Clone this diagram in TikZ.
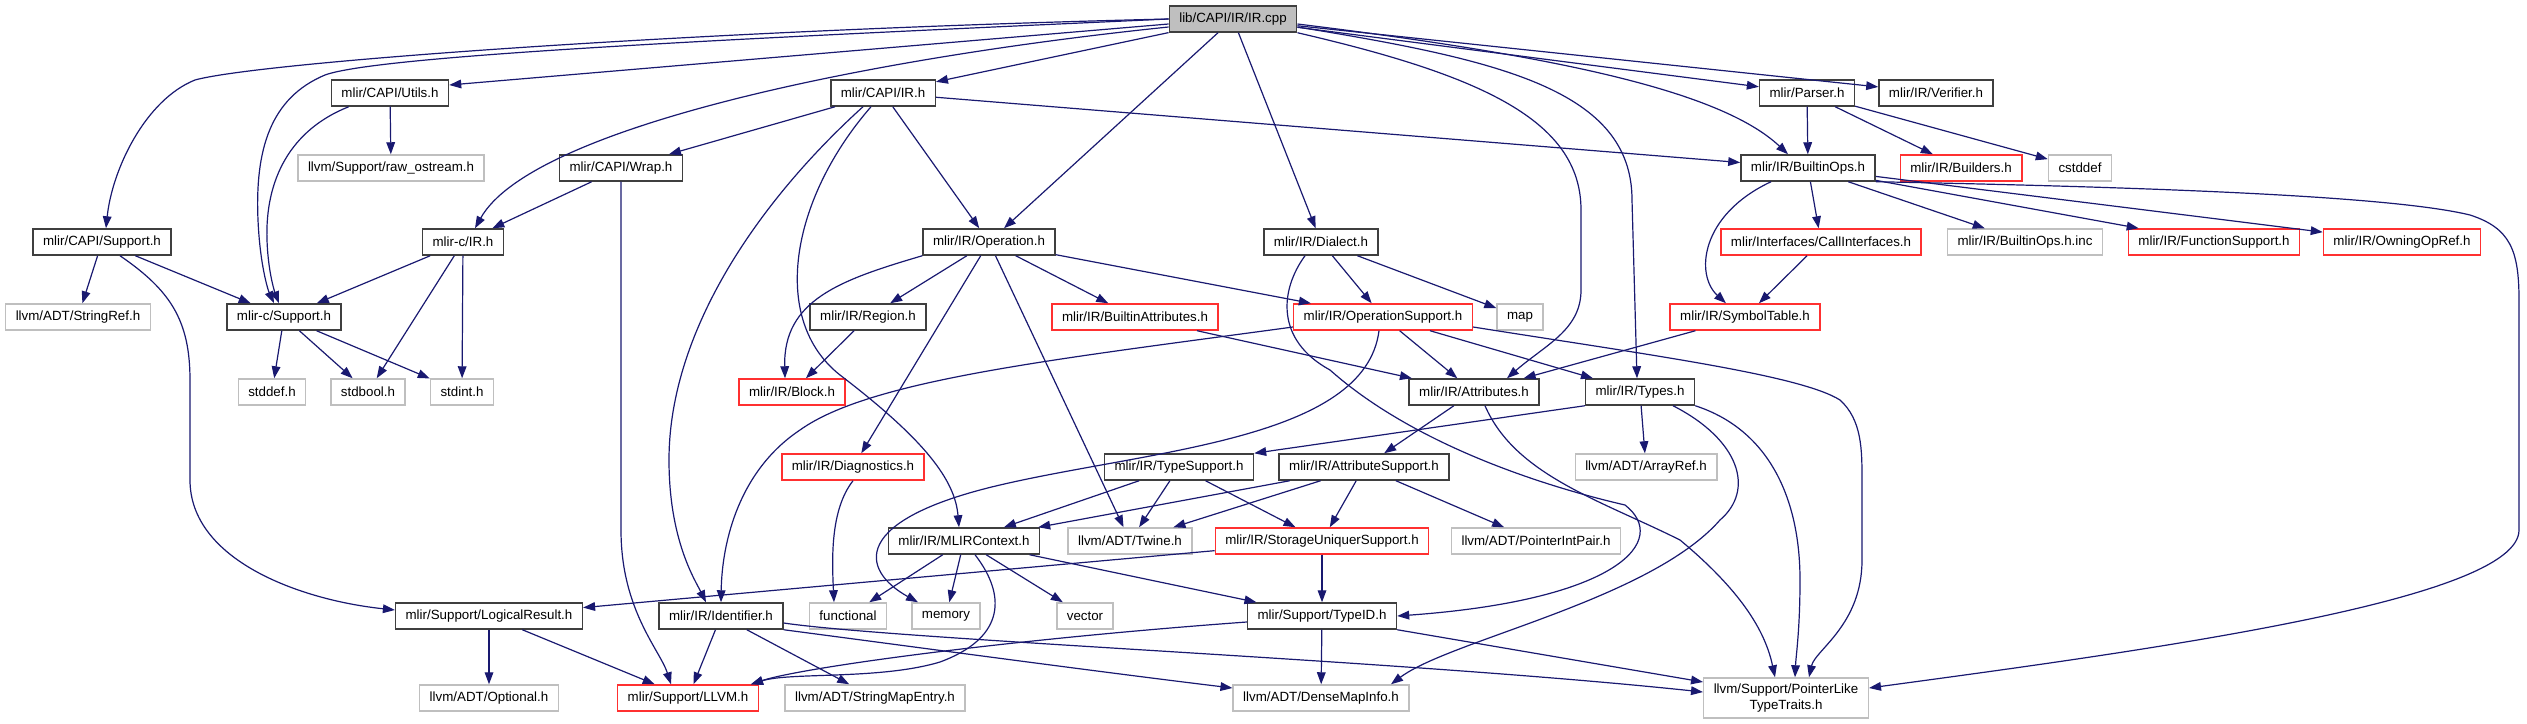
\documentclass[tikz,border=0pt]{standalone}
\usepackage{fontspec}
\setmainfont{Liberation Sans}
\usetikzlibrary{arrows.meta,calc}
\definecolor{dgedge}{HTML}{191970}
\definecolor{dgblack}{HTML}{3F3F3F}
\definecolor{dgred}{HTML}{FF3030}
\definecolor{dggrey}{HTML}{BFBFBF}

\tikzset{
  box/.style={rectangle, draw, line width=1.1pt, fill=white, inner xsep=7.5pt, inner ysep=0pt,
    minimum height=19.5pt, font=\fontsize{10}{12}\selectfont},
  docbox/.style={box, draw=dgblack},
  redbox/.style={box, draw=dgred},
  extbox/.style={box, draw=dggrey},
  rootbox/.style={box, draw=dgblack, fill=dggrey},
  dep/.style={draw=dgedge, line width=0.9pt, -{Triangle[length=9pt,width=6.5pt]}}
}

\begin{document}
\begin{tikzpicture}[x=0.75pt, y=-0.75pt]
      \useasboundingbox (0,0) rectangle (2527,724);

      % Root
      \node[rootbox] (root) at (1233,19) {lib/CAPI/IR/IR.cpp};

      % Direct includes
      \node[docbox] (utils) at (390,93) {mlir/CAPI/Utils.h};
      \node[docbox] (capiir) at (883,93) {mlir/CAPI/IR.h};
      \node[docbox] (parser) at (1807,93) {mlir/Parser.h};
      \node[docbox] (verifier) at (1936,93) {mlir/IR/Verifier.h};

      \node[extbox] (rawos) at (391,168) {llvm/Support/raw\_ostream.h};
      \node[docbox] (wrap) at (621,168) {mlir/CAPI/Wrap.h};
      \node[docbox] (builtinops) at (1808,168) {mlir/IR/BuiltinOps.h};
      \node[redbox] (builders) at (1961,168) {mlir/IR/Builders.h};
      \node[extbox] (cstddef) at (2080,168) {cstddef};

      \node[docbox] (capisupport) at (102,242) {mlir/CAPI/Support.h};
      \node[docbox] (circ) at (463,242) {mlir-c/IR.h};
      \node[docbox] (operation) at (989,242) {mlir/IR/Operation.h};
      \node[docbox] (dialect) at (1321,242) {mlir/IR/Dialect.h};
      \node[redbox] (callif) at (1821,242) {mlir/Interfaces/CallInterfaces.h};
      \node[extbox] (opsinc) at (2025,242) {mlir/IR/BuiltinOps.h.inc};
      \node[redbox] (funcsupport) at (2214,242) {mlir/IR/FunctionSupport.h};
      \node[redbox] (owning) at (2402,242) {mlir/IR/OwningOpRef.h};

      % Middle rows
      \node[extbox] (stringref) at (78,317) {llvm/ADT/StringRef.h};
      \node[docbox] (csupport) at (284,317) {mlir-c/Support.h};
      \node[docbox] (region) at (868,317) {mlir/IR/Region.h};
      \node[redbox] (battrs) at (1135,317) {mlir/IR/BuiltinAttributes.h};
      \node[redbox] (opsupport) at (1383,317) {mlir/IR/OperationSupport.h};
      \node[extbox] (map) at (1520,317) {map};
      \node[redbox] (symtab) at (1745,317) {mlir/IR/SymbolTable.h};

      \node[extbox] (stddef) at (272,392) {stddef.h};
      \node[extbox] (stdbool) at (368,392) {stdbool.h};
      \node[extbox] (stdint) at (462,392) {stdint.h};
      \node[redbox] (block) at (792,392) {mlir/IR/Block.h};
      \node[docbox] (attrs) at (1474,392) {mlir/IR/Attributes.h};
      \node[docbox] (types) at (1640,392) {mlir/IR/Types.h};

      \node[redbox] (diag) at (853,467) {mlir/IR/Diagnostics.h};
      \node[docbox] (typesupport) at (1179,467) {mlir/IR/TypeSupport.h};
      \node[docbox] (attrsupport) at (1364,467) {mlir/IR/AttributeSupport.h};
      \node[extbox] (arrayref) at (1646,467) {llvm/ADT/ArrayRef.h};

      \node[docbox] (ctx) at (964,541) {mlir/IR/MLIRContext.h};
      \node[extbox] (twine) at (1130,541) {llvm/ADT/Twine.h};
      \node[redbox] (suniq) at (1322,541) {mlir/IR/StorageUniquerSupport.h};
      \node[extbox] (pip) at (1536,541) {llvm/ADT/PointerIntPair.h};

      % Bottom rows
      \node[docbox] (logres) at (489,616) {mlir/Support/LogicalResult.h};
      \node[docbox] (ident) at (721,616) {mlir/IR/Identifier.h};
      \node[extbox] (functional) at (848,616) {functional};
      \node[extbox] (memory) at (946,616) {memory};
      \node[extbox] (vector) at (1085,616) {vector};
      \node[docbox] (tid) at (1322,616) {mlir/Support/TypeID.h};

      \node[extbox] (optional) at (489,698) {llvm/ADT/Optional.h};
      \node[redbox] (llvmh) at (688,698) {mlir/Support/LLVM.h};
      \node[extbox] (smentry) at (875,698) {llvm/ADT/StringMapEntry.h};
      \node[extbox] (dmi) at (1321,698) {llvm/ADT/DenseMapInfo.h};
      \node[extbox, align=center, minimum height=30pt] (plt) at (1786,698) {llvm/Support/PointerLike\\TypeTraits.h};

      % Arrows from the root
      \draw[dep] (root.west) .. controls (700,30) and (260,62) .. (195,80) .. controls (145,100) and (112,170) .. ($(capisupport.north)+(4,0)$);
      \draw[dep] (root.west) .. controls (750,38) and (380,55) .. (325,75) .. controls (270,98) and (255,150) .. (258,220) .. controls (260,265) and (268,290) .. ($(csupport.north)+(-10,0)$);
      \draw[dep] ($(root.west)+(0,5)$) -- ($(utils.east)+(0,-8)$);
      \draw[dep] ($(root.west)+(0,8)$) .. controls (850,60) and (530,130) .. ($(circ.north)+(12,0)$);
      \draw[dep] (root) -- (capiir);
      \draw[dep] (root) -- (operation);
      \draw[dep] (root) -- (dialect);
      \draw[dep] (root.south east) .. controls (1480,75) and (1581,120) .. (1581,210) -- (1581,290) .. controls (1581,330) and (1545,345) .. ($(attrs.north)+(33,0)$);
      \draw[dep] ($(root.east)+(0,8)$) .. controls (1500,60) and (1632,90) .. (1632,200) -- ($(types.north)+(-3,0)$);
      \draw[dep] ($(root.east)+(0,5)$) .. controls (1550,55) and (1720,90) .. ($(builtinops.north)+(-20,0)$);
      \draw[dep] (root) -- (parser);
      \draw[dep] (root) -- (verifier);

      % Utils.h
      \draw[dep] (utils) -- (rawos);
      \draw[dep] ($(utils.south west)+(18,0)$) .. controls (290,130) and (265,180) .. (267,240) .. controls (268,270) and (274,290) .. ($(csupport.north)+(-5,0)$);

      % CAPI/IR.h
      \draw[dep] (capiir) -- (wrap);
      \draw[dep] (capiir) -- (operation);
      \draw[dep] (capiir) -- (builtinops);
      \draw[dep] ($(capiir.south)+(-12,0)$) .. controls (790,200) and (770,320) .. (840,375) .. controls (925,440) and (955,480) .. ($(ctx.north)+(-5,0)$);
      \draw[dep] ($(capiir.south)+(-20,0)$) .. controls (760,200) and (669,330) .. (669,460) .. controls (669,540) and (695,580) .. ($(ident.north)+(-15,0)$);

      % Wrap.h
      \draw[dep] (wrap) -- (circ);
      \draw[dep] (wrap.south) -- (621,530) .. controls (621,610) and (660,650) .. ($(llvmh.north)+(-17,0)$);

      % CAPI/Support.h
      \draw[dep] (capisupport) -- (stringref);
      \draw[dep] (capisupport) -- (csupport);
      \draw[dep] ($(capisupport.south)+(18,0)$) .. controls (170,290) and (190,320) .. (190,380) -- (190,480) .. controls (190,560) and (300,600) .. ($(logres.west)+(0,-6)$);

      % mlir-c headers
      \draw[dep] (circ) -- (csupport);
      \draw[dep] (circ) -- (stdbool);
      \draw[dep] (circ) -- (stdint);
      \draw[dep] (csupport) -- (stddef);
      \draw[dep] (csupport) -- (stdbool);
      \draw[dep] (csupport) -- (stdint);

      % Operation.h
      \draw[dep] (operation.south west) .. controls (840,280) and (783,300) .. ($(block.north)+(-7,0)$);
      \draw[dep] (operation) -- (region);
      \draw[dep] (operation) -- (diag);
      \draw[dep] (operation) -- (twine);
      \draw[dep] (operation) -- (battrs);
      \draw[dep] (operation) -- (opsupport);
      \draw[dep] (region) -- (block);
      \draw[dep] (battrs) -- (attrs);

      % Dialect.h
      \draw[dep] (dialect) -- (opsupport);
      \draw[dep] (dialect) -- (map);
      \draw[dep] ($(dialect.south)+(-16,0)$) .. controls (1280,290) and (1275,340) .. (1330,370) .. controls (1420,450) and (1560,490) .. (1625,505) .. controls (1670,540) and (1620,600) .. (tid.east);

      % OperationSupport.h
      \draw[dep] (opsupport) -- (attrs);
      \draw[dep] (opsupport) -- (types);
      \draw[dep] ($(opsupport.west)+(0,10)$) .. controls (1050,360) and (870,380) .. (800,430) .. controls (740,470) and (722,540) .. (ident.north);
      \draw[dep] ($(opsupport.south)+(-4,0)$) .. controls (1365,440) and (1150,450) .. (1000,485) .. controls (850,520) and (860,570) .. ($(memory.north)+(-28,0)$);
      \draw[dep] ($(opsupport.east)+(0,10)$) .. controls (1650,355) and (1800,375) .. (1840,400) .. controls (1862,420) and (1862,450) .. (1862,480) -- (1862,560) .. controls (1862,625) and (1815,650) .. ($(plt.north)+(23,0)$);

      % SymbolTable.h and CallInterfaces.h
      \draw[dep] (symtab) -- (attrs);
      \draw[dep] (callif) -- (symtab);

      % BuiltinOps.h
      \draw[dep] (builtinops) -- (callif);
      \draw[dep] ($(builtinops.south)+(-37,0)$) .. controls (1700,215) and (1695,275) .. ($(symtab.north)+(-19,0)$);
      \draw[dep] (builtinops) -- (opsinc);
      \draw[dep] (builtinops) -- (funcsupport);
      \draw[dep] (builtinops) -- (owning);
      \draw[dep] (builtinops.south east) .. controls (2200,188) and (2400,198) .. (2470,215) .. controls (2510,228) and (2519,250) .. (2519,300) -- (2519,530) .. controls (2519,600) and (2150,650) .. ($(plt.east)+(0,-10)$);

      % Parser.h
      \draw[dep] (parser) -- (builtinops);
      \draw[dep] (parser) -- (builders);
      \draw[dep] (parser) -- (cstddef);

      % Attributes.h
      \draw[dep] (attrs) -- (attrsupport);
      \draw[dep] ($(attrs.south)+(11,0)$) .. controls (1515,475) and (1600,500) .. (1680,540) .. controls (1740,590) and (1765,630) .. ($(plt.north)+(-11,0)$);

      % Types.h
      \draw[dep] (types.south west) -- (typesupport.north east);
      \draw[dep] (types) -- (arrayref);
      \draw[dep] ($(types.south)+(33,0)$) .. controls (1740,440) and (1755,490) .. (1720,520) .. controls (1650,600) and (1450,640) .. ($(dmi.north)+(70,0)$);
      \draw[dep] (types.south east) .. controls (1770,430) and (1800,500) .. (1800,580) .. controls (1800,630) and (1796,655) .. ($(plt.north)+(9,0)$);

      % TypeSupport.h and AttributeSupport.h
      \draw[dep] (typesupport) -- (ctx);
      \draw[dep] (typesupport) -- (twine);
      \draw[dep] (typesupport) -- (suniq);
      \draw[dep] (attrsupport) -- (ctx);
      \draw[dep] (attrsupport) -- (twine);
      \draw[dep] (attrsupport) -- (suniq);
      \draw[dep] (attrsupport) -- (pip);

      % StorageUniquerSupport.h
      \draw[dep] (suniq) -- (tid);
      \draw[dep] (suniq) -- (logres);

      % MLIRContext.h
      \draw[dep] (ctx) -- (functional);
      \draw[dep] (ctx) -- (memory);
      \draw[dep] (ctx) -- (vector);
      \draw[dep] ($(ctx.south)+(11,0)$) .. controls (1010,600) and (1000,640) .. (940,662) .. controls (880,680) and (790,672) .. ($(llvmh.north east)+(-8,0)$);
      \draw[dep] (ctx) -- (tid);

      % Diagnostics.h
      \draw[dep] (diag.south) .. controls (830,510) and (832,560) .. ($(functional.north)+(-14,0)$);

      % Identifier.h
      \draw[dep] (ident) -- (llvmh);
      \draw[dep] (ident) -- (smentry);
      \draw[dep] (ident.south east) .. controls (900,645) and (1100,672) .. ($(dmi.west)+(0,-10)$);
      \draw[dep] ($(ident.east)+(0,7)$) .. controls (900,640) and (1400,660) .. ($(plt.west)+(0,-6)$);

      % TypeID.h
      \draw[dep] ($(tid.west)+(0,6)$) .. controls (1000,640) and (800,668) .. ($(llvmh.north east)+(-8,0)$);
      \draw[dep] (tid) -- (dmi);
      \draw[dep] (tid.south east) -- ($(plt.west)+(0,-16)$);

      % LogicalResult.h
      \draw[dep] (logres) -- (optional);
      \draw[dep] (logres) -- (llvmh);
\end{tikzpicture}
\end{document}
